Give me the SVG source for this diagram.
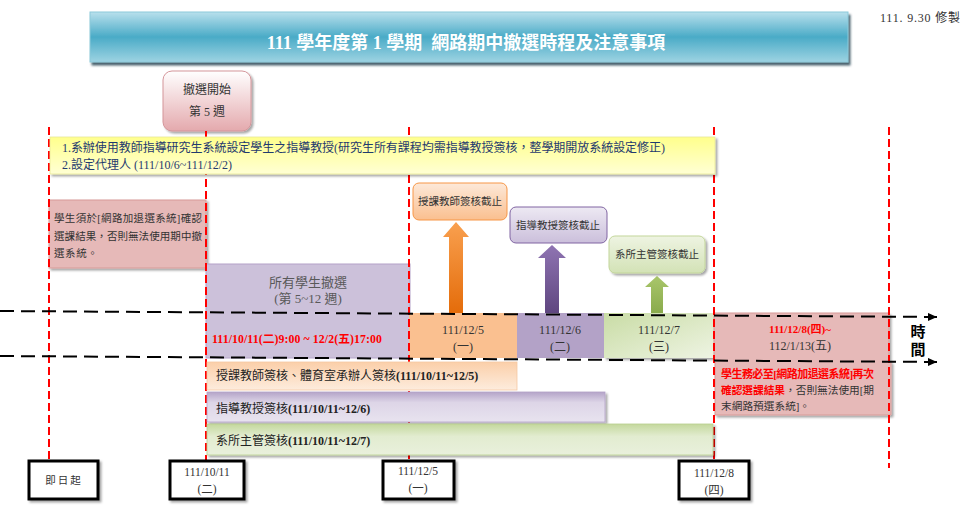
<svg xmlns="http://www.w3.org/2000/svg" width="966" height="506" viewBox="0 0 966 506">
<style>
text { font-family: 'Liberation Serif', 'Noto Sans CJK TC', serif; }
.red { stroke: #ff0000; stroke-width: 2; stroke-dasharray: 8 4; fill: none; }
.tl { stroke: #000; stroke-width: 2; stroke-dasharray: 14 7; fill: none; }
.c { text-anchor: middle; }
.dk { fill: #333; }
.b { font-weight: bold; }
.bx { fill: #fff; stroke: #000; stroke-width: 3; }
</style>
<defs>
  <linearGradient id="gTitle" x1="0" y1="0" x2="0" y2="1">
    <stop offset="0" stop-color="#b9e0ec"/>
    <stop offset="0.5" stop-color="#4aabc7"/>
    <stop offset="1" stop-color="#9dd3e2"/>
  </linearGradient>
  <linearGradient id="gStart" x1="0" y1="0" x2="0" y2="1">
    <stop offset="0" stop-color="#ffffff"/>
    <stop offset="1" stop-color="#e4a9ad"/>
  </linearGradient>
  <linearGradient id="gYellow" x1="0" y1="0" x2="0" y2="1">
    <stop offset="0" stop-color="#ffff8c"/>
    <stop offset="1" stop-color="#ffffd4"/>
  </linearGradient>
  <linearGradient id="gOrBox" x1="0" y1="0" x2="0" y2="1">
    <stop offset="0" stop-color="#fde9d9"/>
    <stop offset="1" stop-color="#fabf8f"/>
  </linearGradient>
  <linearGradient id="gPuBox" x1="0" y1="0" x2="0" y2="1">
    <stop offset="0" stop-color="#ede9f3"/>
    <stop offset="1" stop-color="#cbbfdb"/>
  </linearGradient>
  <linearGradient id="gGrBox" x1="0" y1="0" x2="0" y2="1">
    <stop offset="0" stop-color="#eef4e2"/>
    <stop offset="1" stop-color="#d3e2b6"/>
  </linearGradient>
  <linearGradient id="gOrAr" x1="0" y1="0" x2="0" y2="1">
    <stop offset="0" stop-color="#f9a04f"/>
    <stop offset="1" stop-color="#e46c0a"/>
  </linearGradient>
  <linearGradient id="gPuAr" x1="0" y1="0" x2="0" y2="1">
    <stop offset="0" stop-color="#8f74b2"/>
    <stop offset="1" stop-color="#5f4680"/>
  </linearGradient>
  <linearGradient id="gGrAr" x1="0" y1="0" x2="0" y2="1">
    <stop offset="0" stop-color="#a9c66b"/>
    <stop offset="1" stop-color="#8aab4c"/>
  </linearGradient>
  <linearGradient id="gGrCell" x1="0" y1="0" x2="1" y2="1">
    <stop offset="0" stop-color="#c9dca5"/>
    <stop offset="1" stop-color="#eef4e3"/>
  </linearGradient>
  <linearGradient id="gOrBar" x1="0" y1="0" x2="0" y2="1">
    <stop offset="0" stop-color="#fbcfa9"/>
    <stop offset="1" stop-color="#fdecdd"/>
  </linearGradient>
  <linearGradient id="gPuBar" x1="0" y1="0" x2="0" y2="1">
    <stop offset="0" stop-color="#b4a4c8"/>
    <stop offset="0.35" stop-color="#ddd5e7"/>
    <stop offset="1" stop-color="#e8e3ef"/>
  </linearGradient>
  <linearGradient id="gGrBar" x1="0" y1="0" x2="0" y2="1">
    <stop offset="0" stop-color="#c4d89d"/>
    <stop offset="0.4" stop-color="#e2ecd0"/>
    <stop offset="1" stop-color="#e9f0dc"/>
  </linearGradient>
  <filter id="sh" x="-10%" y="-10%" width="130%" height="150%">
    <feDropShadow dx="2" dy="2" stdDeviation="1.2" flood-color="#000" flood-opacity="0.35"/>
  </filter>
  <filter id="shT" x="-5%" y="-10%" width="110%" height="140%">
    <feDropShadow dx="2" dy="3" stdDeviation="0.8" flood-color="#2b4a55" flood-opacity="0.85"/>
  </filter>
  <marker id="ah" viewBox="0 0 9 8" refX="9" refY="4" markerWidth="9" markerHeight="8" markerUnits="userSpaceOnUse" orient="auto">
    <path d="M0,0 L9,4 L0,8 z" fill="#000"/>
  </marker>
</defs>

<g id="title">
  <rect x="90" y="12" width="758" height="50" fill="url(#gTitle)" stroke="#8cc9da" stroke-width="1" filter="url(#shT)"/>
  <text x="466" y="49" class="c b" font-size="18" fill="#ffffff">111 學年度第 1 學期&#160; 網路期中撤選時程及注意事項</text>
</g>
<g id="revision">
  <text x="880" y="22" font-size="12" fill="#333" textLength="80" lengthAdjust="spacing">111. 9.30 修製</text>
</g>

<g id="start-box">
  <rect x="163" y="71" width="88" height="60" rx="9" fill="url(#gStart)" stroke="#d4959a" stroke-width="1" filter="url(#sh)"/>
  <text x="207" y="94" class="c dk" font-size="12">撤選開始</text>
  <text x="207" y="116" class="c dk" font-size="12">第 5 週</text>
</g>

<g id="confirm-note">
  <rect x="49" y="200" width="157" height="68" fill="#e6b9b8" stroke="#d79a98" stroke-width="1" filter="url(#sh)"/>
  <text x="54" y="222" class="dk" font-size="10.5" textLength="148" lengthAdjust="spacing">學生須於[網路加退選系統]確認</text>
  <text x="54" y="240" class="dk" font-size="10.5" textLength="148" lengthAdjust="spacing">選課結果，否則無法使用期中撤</text>
  <text x="54" y="257" class="dk" font-size="10.5" letter-spacing="0.6">選系統。</text>
</g>

<g id="withdraw-all">
  <rect x="206" y="264" width="204" height="94" fill="#ccc1da" stroke="#b3a2c7" stroke-width="1"/>
  <text x="308" y="287" class="c" font-size="13" fill="#595959">所有學生撤選</text>
  <text x="308" y="303" class="c" font-size="13" fill="#595959">(第 5~12 週)</text>
  <text x="212" y="343" class="b" font-size="11.8" fill="#ff0000" textLength="170" lengthAdjust="spacing">111/10/11(二)9:00 ~ 12/2(五)17:00</text>
</g>

<g id="cell-1205">
  <rect x="409" y="313" width="108" height="45" fill="#fac090"/>
  <text x="463" y="334" class="c dk" font-size="12">111/12/5</text>
  <text x="463" y="351" class="c dk" font-size="12">(一)</text>
</g>
<g id="cell-1206">
  <rect x="517" y="313" width="87" height="45" fill="#b3a2c7"/>
  <text x="560" y="334" class="c dk" font-size="12">111/12/6</text>
  <text x="560" y="351" class="c dk" font-size="12">(二)</text>
</g>
<g id="cell-1207">
  <rect x="604" y="313" width="110" height="45" fill="url(#gGrCell)" filter="url(#sh)"/>
  <text x="659" y="334" class="c dk" font-size="12">111/12/7</text>
  <text x="659" y="351" class="c dk" font-size="12">(三)</text>
</g>

<g id="final-period">
  <path d="M714,313 H889 V362 H891 V415 H715 V362 H714 Z" fill="#e6b9b8" stroke="#d79a98" stroke-width="1" filter="url(#sh)"/>
  <text x="800" y="333" class="c b" font-size="11" fill="#ff0000">111/12/8(四)~</text>
  <text x="800" y="350" class="c dk" font-size="12">112/1/13(五)</text>
  <text x="721" y="378" class="b" font-size="11" fill="#ff0000" textLength="153" lengthAdjust="spacing">學生務必至[網路加退選系統]再次</text>
  <text x="721" y="394" font-size="10.7" textLength="153" lengthAdjust="spacing"><tspan class="b" fill="#ff0000">確認選課結果</tspan><tspan fill="#333">，否則無法使用[期</tspan></text>
  <text x="721" y="410" font-size="10.7" fill="#333">末網路預選系統]。</text>
</g>

<g id="connectors">
  <line class="red" x1="49" y1="127" x2="49" y2="460"/>
  <line class="red" x1="206" y1="131" x2="206" y2="460"/>
  <line class="red" x1="409" y1="127" x2="409" y2="461"/>
  <line class="red" x1="714" y1="127" x2="714" y2="461"/>
  <line class="red" x1="889" y1="127" x2="889" y2="468"/>
  <path d="M449,313 V237 H443 L456,222 L469,237 H463 V313 Z" fill="url(#gOrAr)"/>
  <path d="M545,313 V258 H538 L552,245 L566,258 H559 V313 Z" fill="url(#gPuAr)"/>
  <path d="M651,313 V287 H645 L657,276 L669,287 H663 V313 Z" fill="url(#gGrAr)"/>
</g>

<g id="advisor-setup">
  <rect x="50" y="137" width="665" height="37" fill="url(#gYellow)" stroke="#e8e89a" stroke-width="0.8" filter="url(#sh)"/>
  <text x="62" y="152" font-size="12" fill="#1f3a6e" textLength="603" lengthAdjust="spacing">1.系辦使用教師指導研究生系統設定學生之指導教授(研究生所有課程均需指導教授簽核，整學期開放系統設定修正)</text>
  <text x="62" y="169" font-size="12" fill="#1f3a6e">2.設定代理人 (111/10/6~111/12/2)</text>
</g>

<g id="deadline-teacher">
  <rect x="413" y="183" width="94" height="37" rx="6" fill="url(#gOrBox)" stroke="#f79646" stroke-width="1"/>
  <text x="460" y="205" class="c dk" font-size="10.5">授課教師簽核截止</text>
</g>
<g id="deadline-advisor">
  <rect x="510" y="207" width="97" height="36" rx="6" fill="url(#gPuBox)" stroke="#8064a2" stroke-width="1"/>
  <text x="558" y="229" class="c dk" font-size="10.5">指導教授簽核截止</text>
</g>
<g id="deadline-dept">
  <rect x="609" y="236" width="96" height="37" rx="6" fill="url(#gGrBox)" stroke="#c3d69b" stroke-width="1" filter="url(#sh)"/>
  <text x="657" y="258" class="c dk" font-size="10.5">系所主管簽核截止</text>
</g>

<g id="bar-teacher">
  <rect x="207" y="362" width="310" height="28" fill="url(#gOrBar)" stroke="#f5c9a3" stroke-width="0.8"/>
  <text x="216" y="380" font-size="12" fill="#222">授課教師簽核、體育室承辦人簽核<tspan class="b">(111/10/11~12/5)</tspan></text>
</g>
<g id="bar-advisor">
  <rect x="207" y="392" width="398" height="30" fill="url(#gPuBar)" stroke="#b3a2c7" stroke-width="0.8" filter="url(#sh)"/>
  <text x="216" y="413" font-size="12" fill="#222">指導教授簽核<tspan class="b">(111/10/11~12/6)</tspan></text>
</g>
<g id="bar-dept">
  <rect x="207" y="424" width="506" height="31" fill="url(#gGrBar)" stroke="#b9cf8f" stroke-width="0.8" filter="url(#sh)"/>
  <text x="216" y="445" font-size="12" fill="#222">系所主管簽核<tspan class="b">(111/10/11~12/7)</tspan></text>
</g>

<g id="timeline">
  <line class="tl" x1="0" y1="311" x2="937" y2="317" marker-end="url(#ah)"/>
  <line class="tl" x1="0" y1="356" x2="937" y2="362" marker-end="url(#ah)"/>
  <text x="918" y="337" class="c b" font-size="15" fill="#000">時</text>
  <text x="918" y="355" class="c b" font-size="15" fill="#000">間</text>
</g>

<g id="date-now">
  <rect x="29" y="461" width="69" height="38" class="bx" filter="url(#sh)"/>
  <text x="64" y="484" class="c dk" font-size="10.5" letter-spacing="2">即日起</text>
</g>
<g id="date-1011">
  <rect x="170" y="461" width="74" height="38" class="bx" filter="url(#sh)"/>
  <text x="207" y="476" class="c dk" font-size="11.5">111/10/11</text>
  <text x="207" y="493" class="c dk" font-size="11.5">(二)</text>
</g>
<g id="date-1205">
  <rect x="383" y="461" width="71" height="38" class="bx" filter="url(#sh)"/>
  <text x="418" y="475" class="c dk" font-size="11.5">111/12/5</text>
  <text x="418" y="492" class="c dk" font-size="11.5">(一)</text>
</g>
<g id="date-1208">
  <rect x="679" y="461" width="70" height="38" class="bx" filter="url(#sh)"/>
  <text x="714" y="477" class="c dk" font-size="11.5">111/12/8</text>
  <text x="714" y="494" class="c dk" font-size="11.5">(四)</text>
</g>
</svg>
